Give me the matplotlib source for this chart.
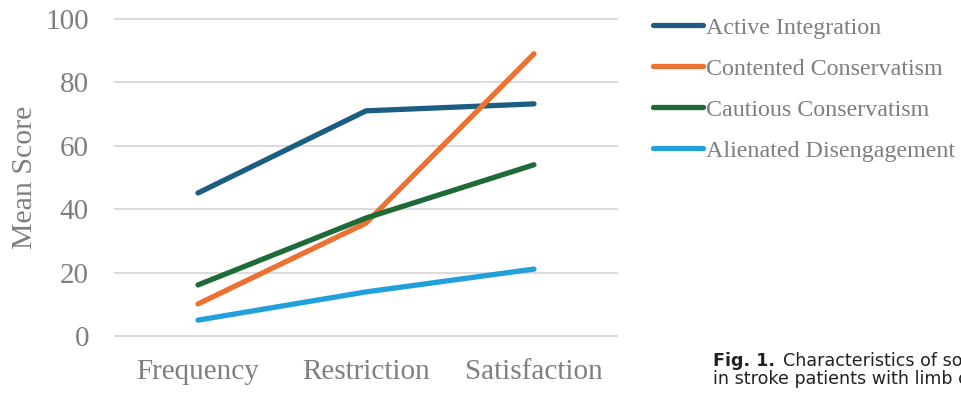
import matplotlib
matplotlib.use('Agg')
import matplotlib.pyplot as plt

# Mean scores per dimension for each social participation profile
categories = ['Frequency', 'Restriction', 'Satisfaction']
active_integration = [45.1, 71.0, 73.2]
contented_conservatism = [10.1, 35.6, 89.0]
cautious_conservatism = [16.1, 37.2, 54.0]
alienated_disengagement = [5.0, 13.9, 21.1]
series_names = ['Active Integration', 'Contented Conservatism',
                'Cautious Conservatism', 'Alienated Disengagement']
yticks = [0, 20, 40, 60, 80, 100]

colors = ['#1B5E82', '#ED7231', '#1E6B37', '#21A0DB']
grey = '#7F7F7F'

plt.rcParams['font.family'] = ['Liberation Serif', 'DejaVu Serif']

fig = plt.figure(figsize=(9.62, 3.93), dpi=100)
ax = fig.add_axes([0.1185, 0.137, 0.5239, 0.823])

all_series = [active_integration, contented_conservatism,
              cautious_conservatism, alienated_disengagement]
x = range(len(categories))
for vals, name, c in zip(all_series, series_names, colors):
    ax.plot(x, vals, color=c, lw=3.8, label=name, solid_capstyle='round')

ax.set_xlim(-0.5, 2.5)
ax.set_ylim(-1, 101)
ax.set_yticks(yticks)
ax.set_xticks(list(x))
ax.set_xticklabels(categories)
ax.yaxis.grid(True, color='#D9D9D9', lw=1.3)
ax.set_axisbelow(True)
for s in ax.spines.values():
    s.set_visible(False)
ax.tick_params(length=0, labelsize=21, labelcolor=grey)
ax.tick_params(axis='y', pad=18)
ax.tick_params(axis='x', pad=14)
ax.set_ylabel('Mean Score', fontsize=21.5, color=grey, labelpad=5)

leg = fig.legend(loc='upper left', bbox_to_anchor=(0.661, 1.0), frameon=False,
                 fontsize=17.3, handlelength=2.1, handletextpad=0.1,
                 labelspacing=0.80, borderaxespad=0.3)
for t in leg.get_texts():
    t.set_color(grey)

# caption fragment, cut by the right edge as in the source
cap = dict(fontsize=12.6, family='DejaVu Sans', color='#222222', va='baseline')
fig.text(0.741, 0.069, 'Fig. 1.', fontweight='bold', **cap)
fig.text(0.814, 0.069, 'Characteristics of social participation', **cap)
fig.text(0.741, 0.023, 'in stroke patients with limb dysfunction', **cap)

fig.savefig('out.png', dpi=100)
